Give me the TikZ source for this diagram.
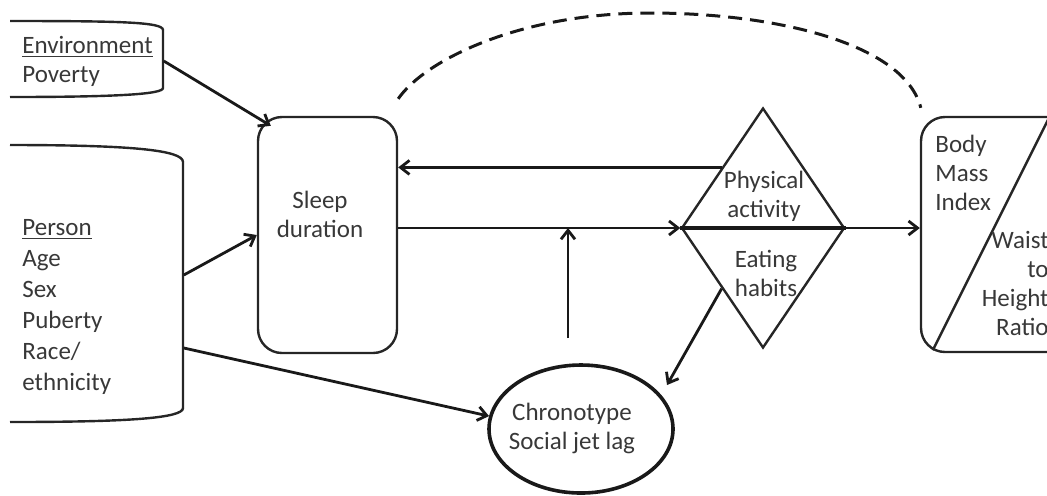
\documentclass[tikz,border=0pt]{standalone}
\usepackage{fontspec}
\setmainfont{Carlito}
\usetikzlibrary{shapes.geometric,arrows.meta,positioning}

\tikzset{
  boxline/.style={line width=1.2pt, black!85},
  conn/.style={line width=1.4pt, black!90, -{Straight Barb[length=4.5pt,width=7pt]}},
  lbl/.style={font=\fontsize{12.5}{14.5}\selectfont, text=black!78, inner sep=2pt},
}

\begin{document}
\begin{tikzpicture}[x=0.5pt, y=-0.5pt]
    \useasboundingbox (0,0) rectangle (1047,495);
    \clip (0,0) rectangle (1047,495);

    % Left-hand factor boxes (cut at the page edge)
    \draw[boxline] (10,21) .. controls (120,21) and (163,22) .. (163,30) -- (163,88)
        .. controls (163,94) and (120,97) .. (10,97);
    \draw[boxline] (10,145) .. controls (130,145) and (183,150) .. (183,162) -- (183,408)
        .. controls (183,418) and (130,422) .. (10,422);
    \node[lbl, anchor=west, text width=68.5pt, align=left] (env) at (18,61)
        {\underline{Environment}\\Poverty};
    \node[lbl, anchor=west, text width=78.5pt, align=left, font=\fontsize{12.5}{15.5}\selectfont] (person) at (18,307)
        {\underline{Person}\\Age\\Sex\\Puberty\\Race/\\ethnicity};

    % Sleep duration
    \node[draw, boxline, rounded corners=12pt, minimum width=69.5pt, minimum height=118pt] (sleep) at (327.5,235) {};
    \node[lbl, align=center] (sleeptxt) at (320,214) {Sleep\\duration};

    % Physical activity / eating habits
    \node[draw, boxline, diamond, minimum width=81.5pt, minimum height=120pt, inner sep=0pt] (act) at (763,228) {};
    \node[lbl, align=center] (acttop) at (764,196) {Physical\\activity};
    \node[lbl, align=center] (actbot) at (766,273) {Eating\\habits};

    % Body mass index / waist to height ratio
    \node[draw, boxline, rounded corners=12pt, minimum width=77pt, minimum height=117.5pt] (bmi) at (998,234.5) {};
    \draw[boxline] (bmi.south west) ++(13,-3) -- ++(116,-232);
    \node[lbl, anchor=west, align=left] (bmitxt) at (931,173) {Body\\Mass\\Index};
    \node[lbl, anchor=east, align=right] (whr) at (1053,283) {Waist\\to\\Height\\Ratio};

    % Chronotype
    \node[draw, line width=1.8pt, black!90, ellipse, minimum width=92pt, minimum height=64pt, inner sep=0pt] (chrono) at (581,429) {};
    \node[lbl, align=center] (chronotxt) at (572,428) {Chronotype\\Social jet lag};

    \coordinate (lagfoot) at (568,338);
    \coordinate (chronotip) at (667,385);

    % Connectors
    \draw[conn] (env.east) -- ([shift={(14,10)}]sleep.north west);
    \draw[conn] ([yshift=16pt]person.east) -- (sleep.west);
    \draw[conn] ([yshift=-20.5pt]person.east) -- (chrono.172);
    \draw[conn] (act.north west) -- (act.north west -| sleep.east);
    \draw[conn] (sleep.east |- act.west) -- (act.west);
    \draw[line width=1.8pt, black!90] (act.west) -- (act.east);
    \draw[conn] (act.east) -- (act.east -| bmi.west);
    \draw[conn] (lagfoot) -- (lagfoot |- act.west);
    \draw[conn] (act.south west) -- (chronotip);

    % Dashed link from sleep to body mass
    \draw[line width=1.5pt, black!90, dash pattern=on 7pt off 4pt]
        ([shift={(0,-17)}]sleep.north east) .. controls (425,60) and (520,13) .. (650,13)
        .. controls (780,13) and (905,45) .. ([shift={(1,-8)}]bmi.north west);
\end{tikzpicture}
\end{document}
